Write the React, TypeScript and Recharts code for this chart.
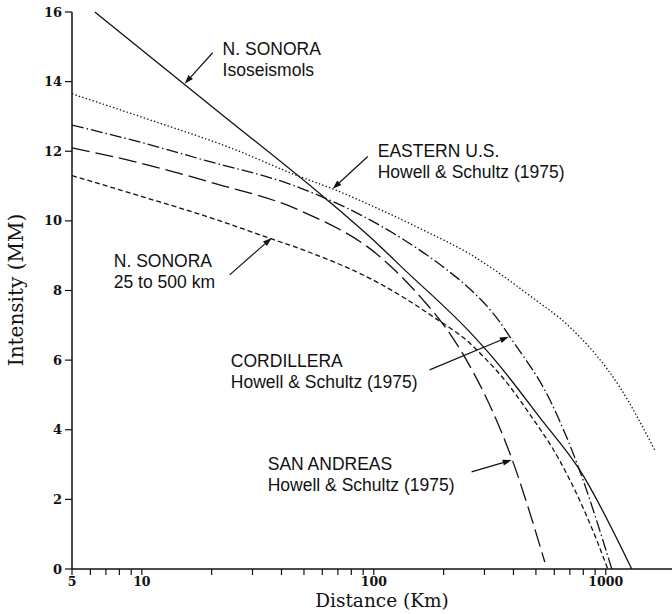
import React from 'react';
import { LineChart, Line, XAxis, YAxis, ReferenceLine, ReferenceDot } from 'recharts';

// Intensity (MM) vs epicentral distance (km).
// N. Sonora isoseismals (solid)
const isoKm = [6.27, 21.7, 61.5, 106, 133, 259, 333, 520, 773, 1294];
const isoMM = [16, 13.1, 10.66, 9.28, 8.65, 6.81, 6.0, 4.35, 2.84, 0];

// Eastern U.S., Howell & Schultz (dotted)
const euKm = [5, 10, 24.7, 48, 66.5, 106, 163, 259, 484, 700, 1148, 1626];
const euMM = [13.65, 12.98, 12.07, 11.27, 10.92, 10.33, 9.74, 9.05, 7.79, 6.95, 5.23, 3.42];

// Cordillera, Howell & Schultz (dash-dot)
const cdKm = [5, 10, 17.8, 48, 121, 206, 259, 349, 386, 574, 750, 1062];
const cdMM = [12.75, 12.25, 11.78, 10.95, 9.65, 8.6, 8.05, 7.1, 6.67, 4.86, 3.05, 0];

// San Andreas, Howell & Schultz (long dash)
const saKm = [5, 10, 20, 48, 106, 163, 198, 251, 392, 546];
const saMM = [12.1, 11.65, 11.1, 10.3, 8.98, 7.73, 7.05, 6.0, 3.2, 0.2];

// N. Sonora 25 to 500 km regression (short dash)
const nsKm = [5, 10, 20, 35.6, 48, 106, 180, 259, 307, 349, 470, 631, 914, 1020];
const nsMM = [11.3, 10.7, 10.08, 9.5, 9.2, 8.2, 7.25, 6.49, 6.0, 5.6, 4.45, 3.13, 0.83, 0];

const xTicks = [5, 6, 7, 8, 9, 10, 20, 30, 40, 50, 60, 70, 80, 90, 100, 200, 300, 400, 500, 600, 700, 800, 900, 1000];
const xLabels = [5, 10, 100, 1000];
const yTicks = [0, 2, 4, 6, 8, 10, 12, 14, 16];

// annotation text + leader arrows, in data units (km, MM)
const notes = [
  { x: 22.3, y: 14.77, lines: ['N. SONORA', 'Isoseismols'], from: [20.2, 14.83], to: [15.3, 13.94] },
  { x: 104, y: 11.84, lines: ['EASTERN U.S.', 'Howell & Schultz (1975)'], from: [94.2, 11.85], to: [66.5, 10.92] },
  { x: 7.57, y: 8.68, lines: ['N. SONORA', '25 to 500 km'], from: [23.9, 8.45], to: [36.3, 9.51] },
  { x: 24.2, y: 5.8, lines: ['CORDILLERA', 'Howell & Schultz (1975)'], from: [174, 5.72], to: [382, 6.67] },
  { x: 34.9, y: 2.84, lines: ['SAN ANDREAS', 'Howell & Schultz (1975)'], from: [264, 2.79], to: [393, 3.13] },
];

const zip = (km: number[], mm: number[]) => km.map((x, i) => ({ x, y: mm[i] }));

const SANS = '"Liberation Sans", Arial, sans-serif';
const SERIF = '"DejaVu Serif", serif';
const INK = '#111';

function Arrow(p: any) {
  const { x1, y1, x2, y2 } = p;
  const a = Math.atan2(y2 - y1, x2 - x1);
  const len = 9;
  const half = 3;
  const bx = x2 - len * Math.cos(a);
  const by = y2 - len * Math.sin(a);
  const nx = -Math.sin(a) * half;
  const ny = Math.cos(a) * half;
  return (
    <g>
      <line x1={x1} y1={y1} x2={bx} y2={by} stroke={INK} strokeWidth={1.2} />
      <polygon points={`${x2},${y2} ${bx + nx},${by + ny} ${bx - nx},${by - ny}`} fill={INK} />
    </g>
  );
}

const noteText = (lines: string[]) => (p: any) => (
  <text x={p.cx} y={p.cy} fontFamily={SANS} fontSize={17.5} fill={INK}>
    {lines.map((t, i) => (
      <tspan key={i} x={p.cx} dy={i === 0 ? 0 : 21}>
        {t}
      </tspan>
    ))}
  </text>
);

const xTitle = () => (
  <text x={382} y={607} textAnchor="middle" fontFamily={SERIF} fontSize={18.5} fill={INK}>
    Distance (Km)
  </text>
);

const yTitle = () => (
  <text x={23} y={290} transform="rotate(-90 23 290)" textAnchor="middle" fontFamily={SERIF} fontSize={20} fill={INK}>
    Intensity (MM)
  </text>
);

const tickStyle = { fill: INK, fontFamily: SERIF, fontWeight: 700, fontSize: 13 };
const xTickStyle = { ...tickStyle, fontSize: 12.5 };

export default function App() {
  return (
    <div style={{ position: 'absolute', left: 0, top: 0, width: 672, height: 614, background: '#fff', overflow: 'hidden' }}>
      <LineChart width={672} height={614} margin={{ top: 12, right: 0, bottom: 0, left: 0 }}>
        <XAxis
          type="number"
          dataKey="x"
          scale="log"
          domain={[5, 1930]}
          allowDataOverflow
          ticks={xTicks}
          interval={0}
          tickFormatter={(v: number) => (xLabels.includes(v) ? String(v) : '')}
          tickSize={6}
          tickMargin={2}
          height={45}
          axisLine={{ stroke: INK, strokeWidth: 1.5 }}
          tickLine={{ stroke: INK, strokeWidth: 1.2 }}
          tick={xTickStyle}
          label={xTitle}
        />
        <YAxis
          type="number"
          dataKey="y"
          domain={[0, 16]}
          ticks={yTicks}
          interval={0}
          width={72}
          tickSize={7}
          tickMargin={3}
          axisLine={{ stroke: INK, strokeWidth: 1.5 }}
          tickLine={{ stroke: INK, strokeWidth: 1.2 }}
          tick={tickStyle}
          label={yTitle}
        />

        <Line data={zip(euKm, euMM)} dataKey="y" type="monotone" stroke={INK} strokeWidth={1.3} strokeDasharray="1.4 2.2" dot={false} activeDot={false} isAnimationActive={false} />
        <Line data={zip(cdKm, cdMM)} dataKey="y" type="monotone" stroke={INK} strokeWidth={1.3} strokeDasharray="12 3 1.5 3" dot={false} activeDot={false} isAnimationActive={false} />
        <Line data={zip(saKm, saMM)} dataKey="y" type="monotone" stroke={INK} strokeWidth={1.3} strokeDasharray="18 6" dot={false} activeDot={false} isAnimationActive={false} />
        <Line data={zip(nsKm, nsMM)} dataKey="y" type="monotone" stroke={INK} strokeWidth={1.3} strokeDasharray="5 3" dot={false} activeDot={false} isAnimationActive={false} />
        <Line data={zip(isoKm, isoMM)} dataKey="y" type="monotone" stroke={INK} strokeWidth={1.3} dot={false} activeDot={false} isAnimationActive={false} />

        {notes.map((n, i) => (
          <ReferenceLine
            key={`a${i}`}
            segment={[{ x: n.from[0], y: n.from[1] }, { x: n.to[0], y: n.to[1] }]}
            shape={Arrow}
          />
        ))}
        {notes.map((n, i) => (
          <ReferenceDot key={`t${i}`} x={n.x} y={n.y} r={0} shape={noteText(n.lines)} />
        ))}
      </LineChart>
    </div>
  );
}
